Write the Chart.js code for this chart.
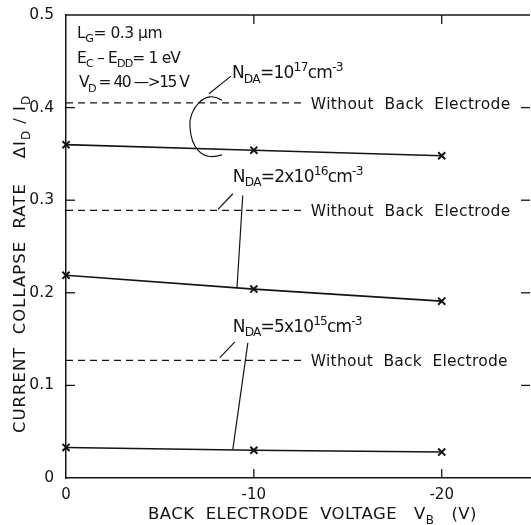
<!DOCTYPE html>
<html><head><meta charset="utf-8">
<script src="https://cdn.jsdelivr.net/npm/chart.js@4.4.1/dist/chart.umd.min.js"></script>
<style>html,body{margin:0;padding:0;background:#fff;overflow:hidden;width:531px;height:525px}canvas{display:block}</style>
</head><body>
<canvas id="c" width="537" height="525"></canvas>
<script>
// ---- data ----
const voltages = [0, -10, -20];
const rate1e17 = [0.360, 0.354, 0.348];
const rate2e16 = [0.219, 0.204, 0.191];
const rate5e15 = [0.033, 0.030, 0.028];
const noBackVoltages = [0, -12.7];
const noBack1e17 = [0.405, 0.405];
const noBack2e16 = [0.289, 0.289];
const noBack5e15 = [0.127, 0.127];
const xTicks = [0, -10, -20];
const yTicks = [0, 0.1, 0.2, 0.3, 0.4, 0.5];

const FONT = '"DejaVu Sans", "Liberation Sans", sans-serif';
const INK = '#141414';
Chart.defaults.font.family = FONT;
Chart.defaults.color = INK;

const pts = (xs, ys) => xs.map((x, i) => ({x, y: ys[i]}));

function richWidth(ctx, parts, size) {
  let w = 0, n = 0;
  for (const [t, k] of parts) {
    const fs = k ? size * 0.72 : size;
    ctx.font = fs + 'px ' + FONT;
    w += ctx.measureText(t).width; n += t.length;
  }
  return {w, n};
}
function drawRich(ctx, parts, x, y, size, target) {
  ctx.letterSpacing = '0px';
  const {w, n} = richWidth(ctx, parts, size);
  const sp = target ? Math.max(-1.5, (target - w) / n) : 0;
  ctx.letterSpacing = sp.toFixed(2) + 'px';
  let cx = x;
  ctx.textBaseline = 'alphabetic';
  ctx.textAlign = 'left';
  for (const [t, k] of parts) {
    let fs = size, dy = 0;
    if (k === 'sub') { fs = size * 0.72; dy = size * 0.28; }
    else if (k === 'sup') { fs = size * 0.72; dy = -size * 0.42; }
    ctx.font = fs + 'px ' + FONT;
    ctx.fillText(t, cx, y + dy);
    cx += ctx.measureText(t).width;
  }
  ctx.letterSpacing = '0px';
}

const decor = {
  id: 'decor',
  afterDatasetsDraw(chart) {
    const {ctx, chartArea: a, scales: {x, y}} = chart;
    const P = (xv, yv) => [x.getPixelForValue(xv), y.getPixelForValue(yv)];
    ctx.save();
    ctx.strokeStyle = INK; ctx.fillStyle = INK; ctx.lineWidth = 1.5;
    // top border
    ctx.beginPath(); ctx.moveTo(a.left, a.top); ctx.lineTo(a.right, a.top); ctx.stroke();
    // inward ticks
    ctx.lineWidth = 1.3;
    for (const v of yTicks.slice(1, -1)) {
      const py = y.getPixelForValue(v);
      ctx.beginPath(); ctx.moveTo(a.left, py); ctx.lineTo(a.left + 9, py); ctx.stroke();
      ctx.beginPath(); ctx.moveTo(a.right, py); ctx.lineTo(a.right - 9, py); ctx.stroke();
    }
    for (const v of xTicks.slice(1)) {
      const px = x.getPixelForValue(v);
      ctx.beginPath(); ctx.moveTo(px, a.bottom); ctx.lineTo(px, a.bottom - 9); ctx.stroke();
      ctx.beginPath(); ctx.moveTo(px, a.top); ctx.lineTo(px, a.top + 9); ctx.stroke();
    }
    // leader lines
    const line = (p, q) => { ctx.beginPath(); ctx.moveTo(...P(...p)); ctx.lineTo(...P(...q)); ctx.stroke(); };
    ctx.lineWidth = 1.2;
    line([-8.78, 0.434], [-7.61, 0.415]);
    line([-8.88, 0.307], [-8.09, 0.290]);
    line([-9.41, 0.305], [-9.10, 0.205]);
    line([-8.99, 0.147], [-8.19, 0.130]);
    line([-9.68, 0.146], [-8.88, 0.031]);
    // bracket arc
    ctx.beginPath();
    ctx.moveTo(...P(-8.30, 0.408));
    ctx.bezierCurveTo(...P(-7.39, 0.421), ...P(-6.49, 0.397), ...P(-6.60, 0.379));
    ctx.bezierCurveTo(...P(-6.65, 0.360), ...P(-7.13, 0.341), ...P(-8.30, 0.349));
    ctx.stroke();
    // texts
    const T = (parts, xv, yv, size, target) => { const [px, py] = P(xv, yv); drawRich(ctx, parts, px, py, size, target); };
    T([['L'], ['G', 'sub'], ['= 0.3 \u00b5m']], -0.59, 0.475, 15.5, 85);
    T([['E'], ['C', 'sub'], [' \u2013 E'], ['DD', 'sub'], ['= 1 eV']], -0.59, 0.448, 15.5, 103);
    T([['V'], ['D', 'sub'], [' = 40 \u2014>15 V']], -0.69, 0.422, 15.5, 102);
    T([['N'], ['DA', 'sub'], ['=10'], ['17', 'sup'], ['cm'], ['-3', 'sup']], -8.83, 0.432, 17, 111);
    T([['N'], ['DA', 'sub'], ['=2x10'], ['16', 'sup'], ['cm'], ['-3', 'sup']], -8.88, 0.320, 17, 130);
    T([['N'], ['DA', 'sub'], ['=5x10'], ['15', 'sup'], ['cm'], ['-3', 'sup']], -8.88, 0.158, 17, 129);
    const wb = [['Without  Back  Electrode']];
    T(wb, -13.03, noBack1e17[0] - 0.006, 15.5, 200);
    T(wb, -13.03, noBack2e16[0] - 0.006, 15.5, 200);
    T(wb, -13.03, noBack5e15[0] - 0.006, 15.5, 197);
    // axis titles
    drawRich(ctx, [['BACK  ELECTRODE  VOLTAGE   V'], ['B', 'sub'], ['   (V)']], 148, 519, 16.5, 329);
    ctx.translate(25, 433);
    ctx.rotate(-Math.PI / 2);
    drawRich(ctx, [['CURRENT  COLLAPSE  RATE    \u0394I'], ['D', 'sub'], [' / I'], ['D', 'sub']], 0, 0, 16.5, 338);
    ctx.restore();
  }
};

const seriesStyle = {
  borderColor: INK, backgroundColor: INK, borderWidth: 1.6,
  pointStyle: 'crossRot', pointRadius: 5, pointBorderWidth: 2, pointBorderColor: INK,
  showLine: true, tension: 0, clip: false
};
const dashStyle = {
  borderColor: INK, borderWidth: 1.3, borderDash: [7, 5], pointRadius: 0, showLine: true, tension: 0
};

new Chart(document.getElementById('c'), {
  type: 'scatter',
  data: {
    datasets: [
      {label: 'NDA=1e17', data: pts(voltages, rate1e17), ...seriesStyle},
      {label: 'NDA=2e16', data: pts(voltages, rate2e16), ...seriesStyle},
      {label: 'NDA=5e15', data: pts(voltages, rate5e15), ...seriesStyle},
      {label: 'w/o 1e17', data: pts(noBackVoltages, noBack1e17), ...dashStyle},
      {label: 'w/o 2e16', data: pts(noBackVoltages, noBack2e16), ...dashStyle},
      {label: 'w/o 5e15', data: pts(noBackVoltages, noBack5e15), ...dashStyle}
    ]
  },
  options: {
    responsive: false, animation: false,
    layout: {padding: {top: 15, right: 0, left: 0, bottom: 0}},
    plugins: {legend: {display: false}, tooltip: {enabled: false}},
    scales: {
      x: {
        type: 'linear', reverse: true, min: -24.7, max: 0,
        afterFit: s => { s.height = 47; },
        afterBuildTicks: s => { s.ticks = xTicks.map(v => ({value: v})); },
        grid: {display: false},
        border: {display: true, color: INK, width: 1.5},
        ticks: {font: {size: 15}, color: INK, padding: 0, maxRotation: 0, autoSkip: false,
                callback: v => String(v)}
      },
      y: {
        min: 0, max: 0.5,
        afterFit: s => { s.width = 66; },
        afterBuildTicks: s => { s.ticks = yTicks.map(v => ({value: v})); },
        grid: {display: false},
        border: {display: true, color: INK, width: 1.5},
        ticks: {font: {size: 15.5}, color: INK, padding: 4, autoSkip: false,
                callback: v => v === 0 ? '0' : v.toFixed(1)}
      }
    }
  },
  plugins: [decor]
});
</script>
</body></html>
